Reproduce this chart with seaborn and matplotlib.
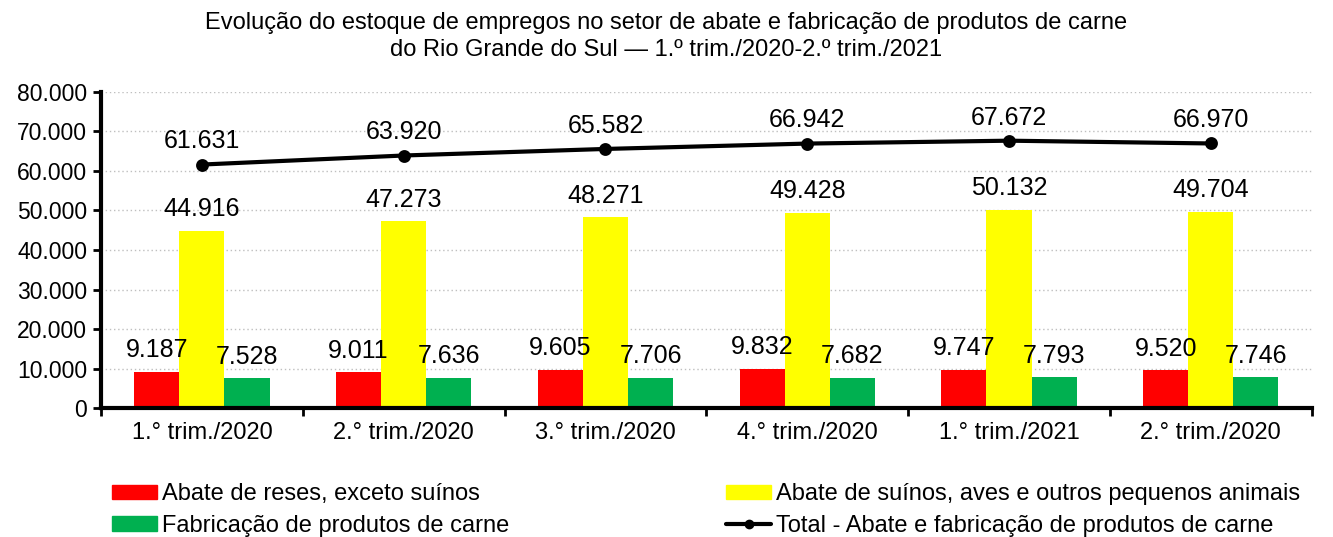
import pandas as pd
import matplotlib.pyplot as plt
import seaborn as sns
from matplotlib.lines import Line2D
from matplotlib.patches import Patch
from matplotlib.ticker import FuncFormatter

periods = ["1.° trim./2020", "2.° trim./2020", "3.° trim./2020",
           "4.° trim./2020", "1.° trim./2021", "2.° trim./2020"]
reses = [9187, 9011, 9605, 9832, 9747, 9520]
suinos = [44916, 47273, 48271, 49428, 50132, 49704]
fabricacao = [7528, 7636, 7706, 7682, 7793, 7746]
total = [61631, 63920, 65582, 66942, 67672, 66970]

series_names = ["Abate de reses, exceto suínos",
                "Abate de suínos, aves e outros pequenos animais",
                "Fabricação de produtos de carne"]
total_name = "Total - Abate e fabricação de produtos de carne"
colors = ["#ff0000", "#ffff00", "#00b050"]

pos = list(range(len(periods)))
df = pd.DataFrame({
    "pos": pos * 3,
    "serie": [series_names[0]] * 6 + [series_names[1]] * 6 + [series_names[2]] * 6,
    "valor": reses + suinos + fabricacao,
})


def br(v, p=None):
    return f"{int(v):,}".replace(",", ".")


sns.set_style("white")
plt.rcParams["font.family"] = ["Liberation Sans", "DejaVu Sans"]
plt.rcParams["text.color"] = "black"
plt.rcParams["xtick.color"] = "black"
plt.rcParams["ytick.color"] = "black"

fig = plt.figure(figsize=(13.33, 5.37), dpi=100)
ax = fig.add_axes([0.0758, 0.2402, 0.9082, 0.5885])

ax.yaxis.grid(True, color="#bfbfbf", linestyle=(0, (1, 2)), linewidth=1)
ax.set_axisbelow(True)

sns.barplot(data=df, x="pos", y="valor", hue="serie", palette=colors,
            width=0.67, gap=0, saturation=1, ax=ax, linewidth=0,
            legend=False, errorbar=None)

sns.pointplot(x=pos, y=total, color="black", markers="o", ax=ax,
              markersize=7, linewidth=3)

for container in ax.containers:
    ax.bar_label(container, labels=[br(b.get_height()) for b in container],
                 padding=7, fontsize=18, color="black")

for i, v in enumerate(total):
    ax.annotate(br(v), (i, v), xytext=(0, 8), textcoords="offset points",
                ha="center", va="bottom", fontsize=18, color="black")

ax.set_ylim(0, 80000)
ax.set_xlim(-0.5, 5.5)
ax.set_yticks(range(0, 80001, 10000))
ax.yaxis.set_major_formatter(FuncFormatter(br))
ax.set_xticks(pos)
ax.set_xticklabels(periods)
ax.set_xlabel("")
ax.set_ylabel("")

for s in ["top", "right"]:
    ax.spines[s].set_visible(False)
for s in ["left", "bottom"]:
    ax.spines[s].set_color("black")
    ax.spines[s].set_linewidth(3)

ax.tick_params(axis="y", direction="out", length=6, width=2, left=True,
               labelsize=16.5, pad=4, colors="black")
ax.tick_params(axis="x", which="major", length=0, labelsize=17, pad=10,
               colors="black")
ax.set_xticks([i - 0.5 for i in range(7)], minor=True)
ax.tick_params(axis="x", which="minor", direction="out", length=6, width=2,
               bottom=True, colors="black")

fig.suptitle("Evolução do estoque de empregos no setor de abate e fabricação de produtos de carne\n"
             "do Rio Grande do Sul — 1.º trim./2020-2.º trim./2021",
             fontsize=17, y=0.978, linespacing=1.3, color="black")

left_handles = [Patch(color=colors[0], label=series_names[0]),
                Patch(color=colors[2], label=series_names[2])]
right_handles = [Patch(color=colors[1], label=series_names[1]),
                 Line2D([0], [0], color="black", lw=3, marker="o",
                        markersize=6, label=total_name)]
leg_kw = dict(loc="upper left", frameon=False, fontsize=17, handlelength=1.9,
              handleheight=0.55, handletextpad=0.2, labelspacing=0.4,
              borderpad=0, borderaxespad=0, labelcolor="black")
fig.legend(handles=left_handles, bbox_to_anchor=(0.084, 0.1), **leg_kw)
fig.legend(handles=right_handles, bbox_to_anchor=(0.545, 0.1), **leg_kw)

fig.savefig("out.png", dpi=100)
